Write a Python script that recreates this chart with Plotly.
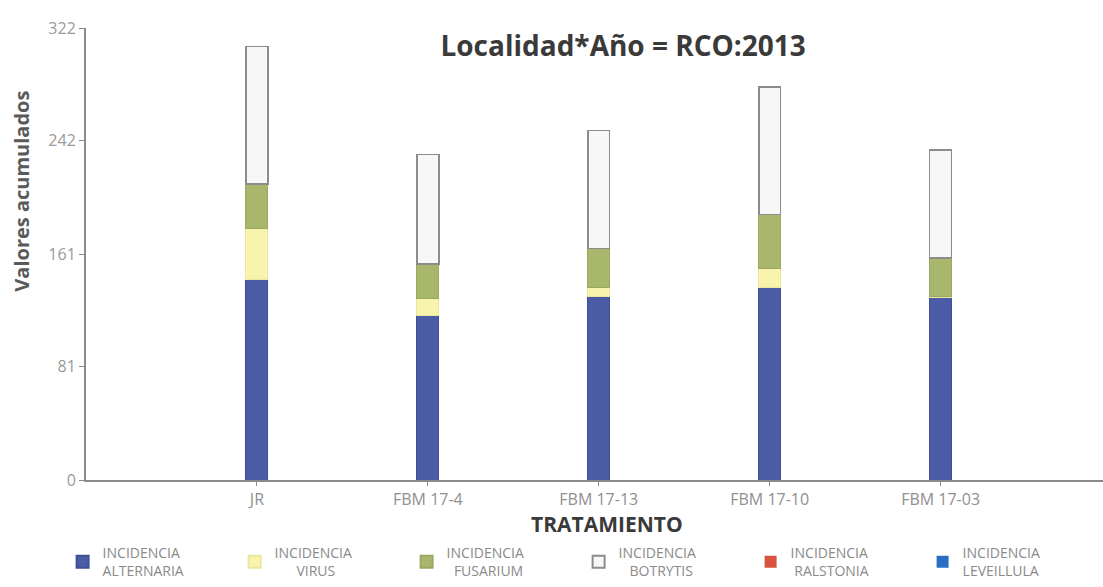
import plotly.graph_objects as go

# Treatments and accumulated incidence per disease
tratamientos = ["JR", "FBM 17-4", "FBM 17-13", "FBM 17-10", "FBM 17-03"]
alternaria = [143, 117, 131, 137, 130]
virus = [36, 12, 6, 14, 1]
fusarium = [32, 25, 28, 38, 27]
botrytis = [98, 78, 84, 91, 77]
ralstonia = [0, 0, 0, 0, 0]
leveillula = [0, 0, 0, 0, 0]

y_ticks = [0, 81, 161, 242, 322]

series = [
    ("INCIDENCIA<br>ALTERNARIA", alternaria, "#4a5ca6", "#3f4f93", 1),
    ("INCIDENCIA<br>&nbsp;&nbsp;&nbsp;&nbsp;&nbsp;&nbsp;VIRUS", virus, "#f8f4ae", "#ece79f", 1),
    ("INCIDENCIA<br>&nbsp;&nbsp;FUSARIUM", fusarium, "#a9b76c", "#9aa861", 1),
    ("INCIDENCIA<br>&nbsp;&nbsp;&nbsp;BOTRYTIS", botrytis, "#f7f7f7", "#8c8c8c", 1.5),
    ("INCIDENCIA<br>&nbsp;RALSTONIA", ralstonia, "#d9543f", "#c24a37", 0),
    ("INCIDENCIA<br>LEVEILLULA", leveillula, "#2b6cc4", "#255fae", 0),
]

xpos = list(range(len(tratamientos)))

fig = go.Figure()
for name, vals, fill, edge, lw in series:
    fig.add_trace(go.Bar(
        x=xpos, y=vals, name=name, width=0.128,
        marker=dict(color=fill, line=dict(color=edge, width=lw)),
    ))

# axis titles placed as annotations so they sit where the layout needs them
fig.add_annotation(
    text="<b>Valores acumulados</b>", textangle=-90,
    xref="paper", yref="paper", x=-0.063, y=0.64,
    xanchor="center", yanchor="middle", showarrow=False,
    font=dict(size=20, color="#5a5a5a", family="Open Sans, sans-serif"),
)
fig.add_annotation(
    text="<b>TRATAMIENTO</b>",
    xref="paper", yref="paper", x=0.512, y=-0.097,
    xanchor="center", yanchor="middle", showarrow=False,
    font=dict(size=21, color="#3a3a3a", family="Open Sans, sans-serif"),
)

fig.update_layout(
    barmode="stack",
    width=1103, height=587,
    margin=dict(l=86, r=0, t=28, b=103),
    paper_bgcolor="white", plot_bgcolor="white",
    font=dict(family="Open Sans, sans-serif", color="#8a8a8a"),
    title=dict(
        text="<b>Localidad*Año = RCO:2013</b>",
        x=0.565, xanchor="center", y=0.922, yanchor="middle",
        font=dict(size=28, color="#3a3a3a", family="Open Sans, sans-serif"),
    ),
    xaxis=dict(
        range=[-1, 4.95],
        tickvals=xpos, ticktext=tratamientos,
        showline=True, linecolor="#8a8a8a", linewidth=2,
        ticks="outside", ticklen=4, tickcolor="#8a8a8a",
        showgrid=False, zeroline=False,
        tickfont=dict(size=16, color="#8f8f8f"),
    ),
    yaxis=dict(
        range=[0, 322],
        tickvals=y_ticks,
        showline=True, linecolor="#8a8a8a", linewidth=2,
        ticks="outside", ticklen=5, tickcolor="#8a8a8a",
        showgrid=False, zeroline=False,
        tickfont=dict(size=16, color="#9a9a9a"),
    ),
    legend=dict(
        orientation="h", x=-0.023, xanchor="left", y=-0.126, yanchor="top",
        entrywidth=127, entrywidthmode="pixels",
        traceorder="normal",
        font=dict(size=14, color="#8a8a8a"),
        itemsizing="constant",
        tracegroupgap=0,
    ),
)

fig.write_html("out.html")
